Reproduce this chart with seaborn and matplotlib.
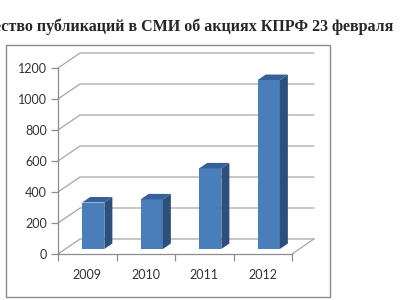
import matplotlib
matplotlib.use("Agg")
import matplotlib.pyplot as plt
import seaborn as sns
import pandas as pd
from matplotlib.patches import Rectangle, Polygon

# ---- data ----
years = ["2009", "2010", "2011", "2012"]
counts = [300, 320, 520, 1090]
yticks = [0, 200, 400, 600, 800, 1000, 1200]
title = "Количество публикаций в СМИ об акциях КПРФ 23 февраля"

df = pd.DataFrame({"year": years, "count": counts})

sns.set_style("white")
plt.rcParams["font.family"] = ["Lato", "DejaVu Sans"]

W, H = 420, 300
fig = plt.figure(figsize=(W / 100, H / 100), dpi=100)

# outer chart frame
fig.add_artist(Rectangle((6 / W, 3 / H), 324 / W, 252 / H, transform=fig.transFigure,
                         fill=False, edgecolor="#8c8c8c", lw=1.0))

ax = fig.add_axes([58 / W, 46 / H, 234 / W, 186 / H])
ax.set_xlim(-0.5, len(years) - 0.5)
ax.set_ylim(0, 1200)


def px(dx, dy):
    """pixel offset -> data offset"""
    inv = ax.transData.inverted()
    p0 = ax.transData.transform((0, 0))
    x, y = inv.transform((p0[0] + dx, p0[1] + dy))
    return x, y


front_col = "#4a7ebb"
side_col = "#2c4f7c"
top_col = "#35609a"
grid_col = "#a6a6a6"

sns.barplot(data=df, x="year", y="count", color=front_col, saturation=1,
            width=0.38, ax=ax, zorder=3)
ax.set_xlim(-0.5, len(years) - 0.5)
ax.set_ylim(0, 1200)

# back wall gridlines + floor
wdx, wdy = px(22, 15)
x0, x1 = -0.5, len(years) - 0.5
for v in yticks:
    ax.plot([x0, x0 + wdx, x1 + wdx], [v, v + wdy, v + wdy], color=grid_col,
            lw=0.9, clip_on=False, zorder=0.5)
ax.plot([x1, x1 + wdx], [0, wdy], color=grid_col, lw=0.9, clip_on=False, zorder=0.5)

# 3D bars
sdx, sdy = px(6, 5)      # front face shift into depth
bdx, bdy = px(8, 5.5)    # bar depth
for bar in ax.patches:
    if not isinstance(bar, Rectangle):
        continue
    bar.set_x(bar.get_x() + sdx)
    bar.set_y(bar.get_y() + sdy)
    bar.set_edgecolor("none")
    xl = bar.get_x()
    xr = xl + bar.get_width()
    yb = bar.get_y()
    yt = yb + bar.get_height()
    ax.add_patch(Polygon([(xr, yb), (xr + bdx, yb + bdy), (xr + bdx, yt + bdy), (xr, yt)],
                         closed=True, facecolor=side_col, edgecolor="none", zorder=3,
                         clip_on=False))
    ax.add_patch(Polygon([(xl, yt), (xr, yt), (xr + bdx, yt + bdy), (xl + bdx, yt + bdy)],
                         closed=True, facecolor=top_col, edgecolor="none", zorder=3,
                         clip_on=False))

# axes styling
for s in ["top", "right"]:
    ax.spines[s].set_visible(False)
for s in ["left", "bottom"]:
    ax.spines[s].set_color("#8c8c8c")
    ax.spines[s].set_linewidth(0.9)
ax.set_yticks(yticks)
ax.set_yticklabels([str(v) for v in yticks])
ax.set_xticks(range(len(years)))
ax.set_xticklabels(years)
ax.set_xticks([i - 0.5 for i in range(len(years) + 1)], minor=True)
ax.tick_params(axis="y", which="major", length=5, width=0.9, color="#8c8c8c",
               labelsize=9, labelcolor="#333333", pad=3, left=True)
ax.tick_params(axis="x", which="major", length=0, labelsize=9, labelcolor="#333333", pad=11)
ax.tick_params(axis="x", which="minor", length=5, width=0.9, color="#8c8c8c", bottom=True)
ax.set_xlabel("")
ax.set_ylabel("")
ax.grid(False)

fig.text(393 / W, 1 - 27 / H, title, ha="right", va="center",
         fontfamily=["Liberation Serif", "DejaVu Serif"], fontweight="bold", fontsize=11.5)

fig.savefig("out.png", dpi=100)
